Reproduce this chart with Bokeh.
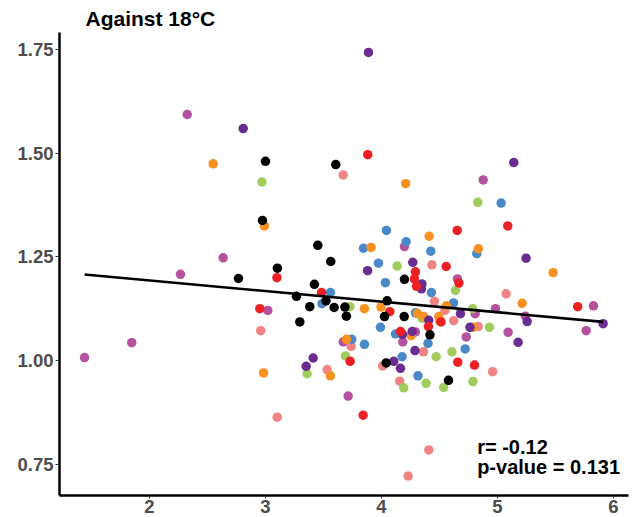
import numpy as np
from bokeh.plotting import figure
from bokeh.models import Range1d, FixedTicker, NumeralTickFormatter, ColumnDataSource
from bokeh.core.properties import value
from bokeh.embed import file_html
from bokeh.resources import INLINE

title_text = "Against 18°C"
x_ticks = [2, 3, 4, 5, 6]
y_ticks = [0.75, 1.00, 1.25, 1.50, 1.75]
stat_lines = ["r= -0.12", "p-value = 0.131"]

black_x = [3.00, 3.606, 2.974, 3.451, 3.563, 3.103, 4.198, 2.767, 3.422, 3.267, 3.522,
           3.382, 3.592, 3.685, 3.698, 3.296, 4.049, 4.026, 4.196, 4.418, 4.041, 4.578]
black_y = [1.481, 1.473, 1.338, 1.278, 1.239, 1.223, 1.196, 1.198, 1.184, 1.155, 1.144,
           1.130, 1.128, 1.129, 1.107, 1.093, 1.144, 1.106, 1.106, 1.062, 0.994, 0.952]

red_x = [3.882, 4.653, 5.089, 4.558, 4.293, 4.284, 4.302, 3.099, 4.668, 3.483,
         4.072, 4.513, 4.405, 4.164, 4.658, 4.802, 3.730, 2.951, 3.842, 5.692]
red_y = [1.497, 1.314, 1.325, 1.227, 1.214, 1.197, 1.179, 1.200, 1.187, 1.164,
         1.118, 1.093, 1.082, 1.070, 0.996, 0.989, 0.998, 1.125, 0.868, 1.130]

orange_x = [2.549, 4.209, 2.991, 4.411, 3.911, 4.836, 5.480, 3.853, 3.996, 4.310,
            4.365, 4.494, 4.504, 4.560, 4.256, 4.791, 3.698, 3.560, 2.984, 5.213]
orange_y = [1.475, 1.427, 1.325, 1.300, 1.273, 1.270, 1.212, 1.125, 1.129, 1.114,
            1.106, 1.106, 1.095, 1.132, 1.060, 1.080, 1.051, 0.963, 0.970, 1.138]

green_x = [2.970, 4.135, 4.830, 4.638, 3.728, 4.351, 4.787, 4.931, 4.472, 4.608,
           3.690, 3.359, 4.192, 4.385, 4.537, 4.789]
green_y = [1.431, 1.228, 1.382, 1.169, 1.130, 1.102, 1.125, 1.080, 1.009, 1.021,
           1.011, 0.968, 0.934, 0.945, 0.935, 0.949]

blue_x = [4.043, 4.213, 3.845, 4.425, 3.974, 5.032, 4.822, 4.034, 4.431, 3.560, 3.487,
          4.621, 4.293, 3.991, 4.121, 4.401, 4.722, 4.178, 3.744, 3.853, 4.315]
blue_y = [1.314, 1.287, 1.271, 1.264, 1.235, 1.380, 1.258, 1.188, 1.164, 1.164, 1.137,
          1.139, 1.115, 1.080, 1.064, 1.041, 1.028, 1.009, 1.051, 1.039, 0.963]

purple_x = [3.888, 2.808, 5.141, 4.270, 3.881, 5.247, 4.349, 4.345, 4.681, 4.408, 4.763,
            5.256, 4.181, 4.265, 4.289, 4.106, 4.164, 5.178, 5.911, 3.411, 3.351]
purple_y = [1.744, 1.560, 1.478, 1.237, 1.217, 1.247, 1.185, 1.173, 1.113, 1.097, 1.080,
            1.094, 1.063, 1.070, 1.024, 0.998, 0.981, 1.044, 1.089, 1.006, 0.986]

salmon_x = [3.670, 4.435, 4.457, 4.547, 4.623, 4.834, 5.075, 4.362, 4.011, 4.157,
            3.739, 3.532, 2.959, 3.101, 4.408, 4.230, 4.959]
salmon_y = [1.448, 1.231, 1.143, 1.121, 1.096, 1.082, 1.161, 1.021, 0.987, 0.950,
            1.034, 0.978, 1.072, 0.863, 0.784, 0.721, 0.973]

magenta_x = [2.325, 4.198, 4.877, 4.655, 4.983, 4.808, 5.241, 5.092, 4.731, 5.828,
             5.765, 4.293, 4.184, 3.670, 3.713, 2.635, 2.267, 3.020, 1.847, 1.440]
magenta_y = [1.594, 1.275, 1.436, 1.197, 1.125, 1.113, 1.107, 1.068, 1.057, 1.132,
             1.072, 1.069, 1.045, 1.045, 0.914, 1.248, 1.208, 1.121, 1.043, 1.007]

groups = [
    (magenta_x, magenta_y, "#b5529f"),
    (salmon_x, salmon_y, "#f08484"),
    (green_x, green_y, "#9fcd5c"),
    (blue_x, blue_y, "#4a89c9"),
    (orange_x, orange_y, "#f79121"),
    (purple_x, purple_y, "#6b2c8f"),
    (red_x, red_y, "#ed2024"),
    (black_x, black_y, "#000000"),
]

FONT = "Liberation Sans"

p = figure(width=640, height=517, output_backend="svg", toolbar_location=None,
           x_range=Range1d(1.224, 6.13), y_range=Range1d(0.674, 1.792),
           min_border_left=59, min_border_right=12, min_border_top=32, min_border_bottom=22)

p.title.text = title_text
p.title.text_font = FONT
p.title.text_font_size = "21px"
p.title.text_font_style = "bold"
p.title.text_color = "black"
p.title.offset = 26
p.title.standoff = 5

p.outline_line_color = None
p.xgrid.visible = False
p.ygrid.visible = False
p.background_fill_color = "white"

for ax in (p.xaxis, p.yaxis):
    ax.axis_line_width = 2.5
    ax.axis_line_color = "black"
    ax.major_tick_line_color = "#333333"
    ax.major_tick_line_width = 1
    ax.major_tick_out = 4
    ax.major_tick_in = 0
    ax.minor_tick_line_color = None
    ax.major_label_text_font = FONT
    ax.major_label_text_font_size = "18.5px"
    ax.major_label_text_font_style = "bold"
    ax.major_label_text_color = "#4d4d4d"
    ax.major_label_standoff = 2

p.xaxis.major_tick_out = 3
p.xaxis.major_label_standoff = 1

p.xaxis.ticker = FixedTicker(ticks=x_ticks)
p.yaxis.ticker = FixedTicker(ticks=y_ticks)
p.xaxis.formatter = NumeralTickFormatter(format="0")
p.yaxis.formatter = NumeralTickFormatter(format="0.00")

for gx, gy, col in groups:
    src = ColumnDataSource(dict(x=gx, y=gy))
    p.scatter("x", "y", source=src, size=9.5, fill_color=col, line_color=None)

all_x = np.concatenate([np.array(g[0]) for g in groups])
all_y = np.concatenate([np.array(g[1]) for g in groups])
slope, intercept = np.polyfit(all_x, all_y, 1)
lx = np.array([all_x.min(), all_x.max()])
p.line(lx, slope * lx + intercept, line_color="black", line_width=2.6)

p.text(x=[4.825, 4.825], y=[0.790, 0.742], text=stat_lines,
       text_font=value(FONT), text_font_size="20px", text_font_style="bold",
       text_color="black", text_align="left", text_baseline="middle")

open("out.html", "w").write(file_html(p, INLINE))
